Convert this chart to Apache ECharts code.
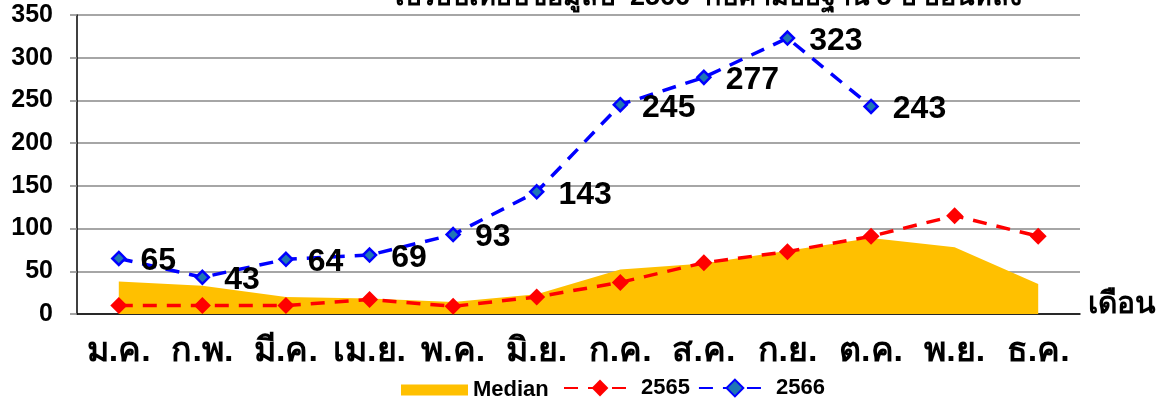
<!DOCTYPE html>
<html>
<head>
<meta charset="utf-8">
<script src="https://cdn.jsdelivr.net/npm/echarts@6/dist/echarts.min.js"></script>
<style>
  html, body { margin: 0; padding: 0; background: #fff; }
  #chart { width: 1159px; height: 403px; }
</style>
</head>
<body>
<div id="chart"></div>
<script>
// เดือน
const months = ['ม.ค.', 'ก.พ.', 'มี.ค.', 'เม.ย.', 'พ.ค.', 'มิ.ย.', 'ก.ค.', 'ส.ค.', 'ก.ย.', 'ต.ค.', 'พ.ย.', 'ธ.ค.'];
// ค่ามัธยฐาน 5 ปี
const median = [38, 33, 20, 18, 14, 23, 52, 59, 74, 89, 78, 35];
const y2565 = [10, 10, 10, 17, 9, 20, 37, 60, 73, 91, 115, 91];
const y2566 = [65, 43, 64, 69, 93, 143, 245, 277, 323, 243];

const font = '"Liberation Sans", Arial, sans-serif';

let myChart = echarts.init(document.getElementById('chart'));
let option = {
    animation: false,
    textStyle: { fontFamily: font },
    title: {
        text: 'เปรียบเทียบข้อมูลปี  2566  กับค่ามัธยฐาน 5 ปี ย้อนหลัง',
        left: 390,
        top: -21,
        textStyle: { fontSize: 27, fontWeight: 'bold', color: '#000', fontFamily: font }
    },
    legend: [
        {
            left: 396,
            top: 374,
            itemWidth: 67,
            itemHeight: 11,
            textStyle: { fontSize: 22, fontWeight: 'bold', color: '#000', fontFamily: font },
            data: [{ name: 'Median', icon: 'rect' }]
        },
        {
            left: 558,
            top: 372,
            itemWidth: 72,
            itemHeight: 21,
            itemGap: 8,
            textStyle: { fontSize: 22, fontWeight: 'bold', color: '#000', fontFamily: font },
            data: ['2565', '2566']
        }
    ],
    grid: { left: 77, right: 78, top: 15, bottom: 89 },
    xAxis: {
        type: 'category',
        data: months,
        boundaryGap: true,
        name: 'เดือน',
        nameLocation: 'end',
        nameGap: 8,
        nameTextStyle: { fontSize: 30, fontWeight: 'bold', color: '#000', verticalAlign: 'bottom', padding: [0, 0, -6, 0] },
        axisLine: { lineStyle: { color: '#000', width: 1.5 } },
        axisTick: { alignWithLabel: true, length: 6, lineStyle: { color: '#000' } },
        axisLabel: { interval: 0, fontSize: 34, fontWeight: 'bold', color: '#000', margin: 21 }
    },
    yAxis: {
        type: 'value',
        min: 0,
        max: 350,
        interval: 50,
        axisLine: { show: true, lineStyle: { color: '#000', width: 1.5 } },
        axisTick: { show: true, inside: false, length: 7, lineStyle: { color: '#888', width: 1.5 } },
        axisLabel: { fontSize: 25, fontWeight: 'bold', color: '#000', margin: 24 },
        splitLine: { lineStyle: { color: '#888', width: 1.5 } }
    },
    series: [
        {
            name: 'Median',
            type: 'line',
            data: median,
            symbol: 'none',
            itemStyle: { color: '#FFC000' },
            lineStyle: { width: 0 },
            areaStyle: { color: '#FFC000', opacity: 1 },
            z: 1
        },
        {
            name: '2565',
            type: 'line',
            data: y2565,
            symbol: 'diamond',
            symbolSize: 17,
            itemStyle: { color: '#FF0000' },
            lineStyle: { color: '#FF0000', width: 3.5, type: [14, 10] },
            z: 3
        },
        {
            name: '2566',
            type: 'line',
            data: y2566,
            symbol: 'diamond',
            symbolSize: 13,
            itemStyle: { color: '#1F77B4', borderColor: '#0000FF', borderWidth: 2.5 },
            lineStyle: { color: '#0000FF', width: 3.5, type: [14, 10] },
            label: {
                show: true,
                position: 'right',
                distance: 14,
                offset: [0, 3],
                fontSize: 32,
                fontWeight: 'bold',
                color: '#000',
                fontFamily: font
            },
            z: 4
        }
    ]
};
myChart.setOption(option);
window.addEventListener('resize', function () {
    myChart.resize();
});
</script>
</body>
</html>
